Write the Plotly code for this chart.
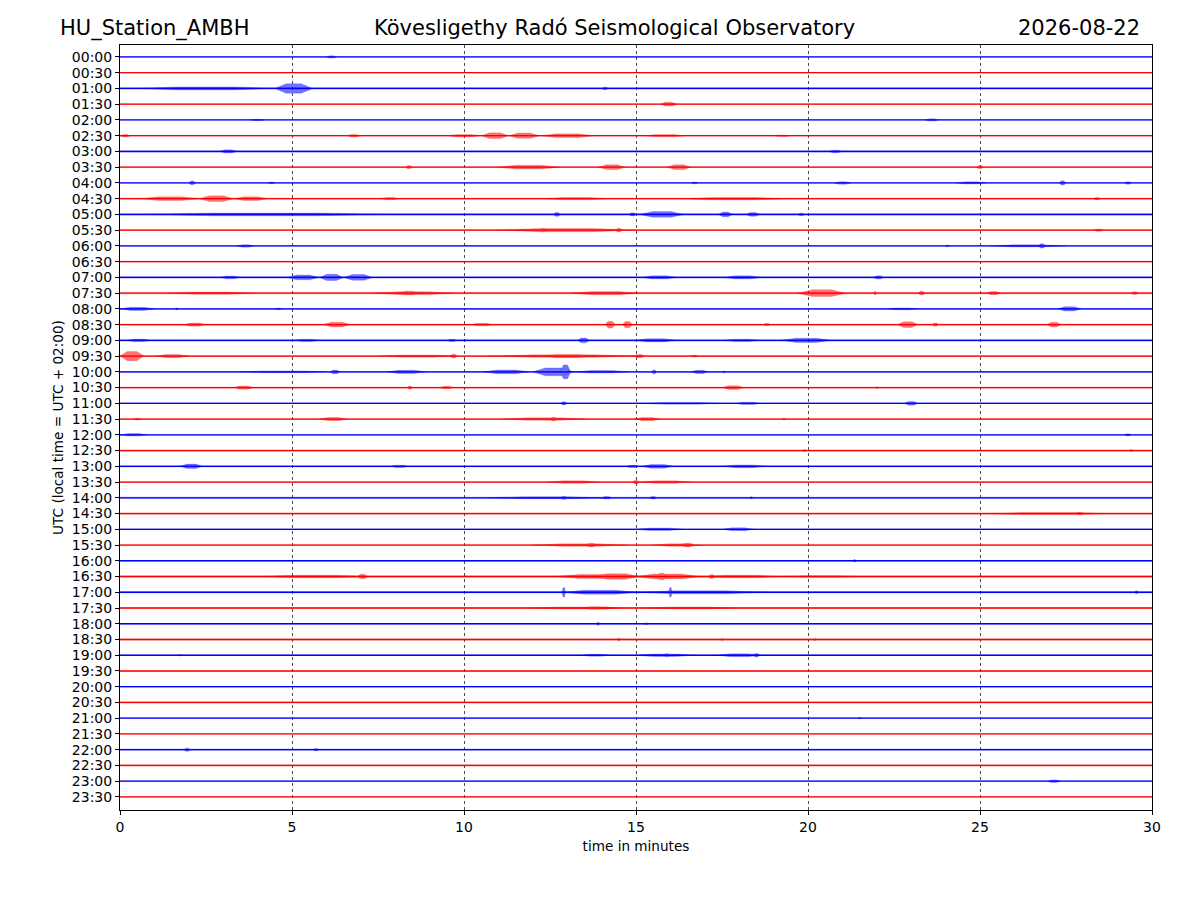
import plotly.graph_objects as go

# helicorder rows, 30 minutes each
row_labels = ["%02d:%02d" % (h, m) for h in range(24) for m in (0, 30)]
row_colors = ["#0000ff", "#ff0000"] * 24

# background noise half-amplitude per row (in row-spacing units)
noise = [0.03, 0.04, 0.07, 0.05, 0.03, 0.05, 0.08, 0.05, 0.03, 0.06, 0.08, 0.05,
         0.04, 0.05, 0.07, 0.07, 0.05, 0.06, 0.07, 0.05, 0.05, 0.05, 0.05, 0.05,
         0.04, 0.06, 0.06, 0.05, 0.06, 0.06, 0.05, 0.05, 0.04, 0.07, 0.06, 0.04,
         0.04, 0.06, 0.05, 0.03, 0.05, 0.06, 0.04, 0.03, 0.06, 0.06, 0.04, 0.04]

# bursts per row: (start minute, end minute, half amplitude)
bursts = [
    [(6.0, 6.3, 0.07)],
    [],
    [(0.5, 4.5, 0.1), (4.5, 5.6, 0.3), (14.0, 14.2, 0.08)],
    [(15.7, 16.2, 0.12)],
    [(3.8, 4.2, 0.05), (23.4, 23.8, 0.07)],
    [(0.0, 0.3, 0.08), (6.6, 7.0, 0.08), (9.5, 10.5, 0.08), (10.5, 11.3, 0.18),
     (11.3, 12.2, 0.17), (12.2, 13.8, 0.12), (15.2, 16.5, 0.07), (19.0, 19.5, 0.05)],
    [(2.9, 3.4, 0.1), (20.6, 21.0, 0.08)],
    [(8.3, 8.5, 0.1), (10.95, 12.8, 0.12), (13.9, 14.7, 0.15), (15.9, 16.6, 0.15),
     (24.9, 25.1, 0.1)],
    [(2.0, 2.2, 0.12), (4.3, 4.5, 0.06), (16.6, 16.8, 0.06), (20.75, 21.25, 0.08),
     (24.3, 25.2, 0.07), (27.3, 27.5, 0.13), (29.2, 29.4, 0.08)],
    [(0.6, 2.3, 0.12), (2.3, 3.3, 0.18), (3.3, 4.3, 0.12), (7.6, 8.1, 0.07),
     (12.3, 14.2, 0.07), (16.3, 19.4, 0.08), (28.3, 28.5, 0.08)],
    [(0.6, 7.8, 0.09), (12.6, 12.8, 0.12), (14.8, 15.0, 0.1), (15.1, 16.4, 0.18),
     (17.4, 17.8, 0.15), (18.2, 18.6, 0.12), (19.7, 19.9, 0.08)],
    [(10.95, 15.0, 0.1), (12.2, 12.4, 0.12), (14.4, 14.6, 0.12), (28.3, 28.6, 0.07)],
    [(3.4, 3.9, 0.08), (24.0, 24.1, 0.06), (25.3, 27.5, 0.07), (26.7, 26.9, 0.14)],
    [],
    [(2.9, 3.5, 0.09), (4.85, 5.8, 0.15), (5.8, 6.5, 0.2), (6.5, 7.35, 0.18),
     (15.15, 16.2, 0.1), (17.55, 18.65, 0.1), (21.9, 22.2, 0.1)],
    [(1.4, 3.9, 0.07), (7.35, 9.7, 0.09), (8.1, 8.7, 0.12), (13.1, 15.1, 0.1),
     (19.7, 21.1, 0.22), (21.9, 22.0, 0.1), (23.2, 23.4, 0.12), (25.2, 25.6, 0.1),
     (29.4, 29.6, 0.08)],
    [(0.0, 1.0, 0.1), (1.6, 1.7, 0.06), (4.5, 4.7, 0.05), (22.3, 23.2, 0.06),
     (27.25, 27.95, 0.14)],
    [(1.85, 2.5, 0.1), (5.9, 6.7, 0.15), (10.2, 10.85, 0.08), (14.1, 14.4, 0.22),
     (14.6, 14.9, 0.2), (18.7, 18.9, 0.08), (22.6, 23.2, 0.18), (23.6, 23.8, 0.1),
     (26.95, 27.35, 0.15)],
    [(0.2, 0.9, 0.08), (5.05, 5.8, 0.07), (9.5, 9.8, 0.07), (13.3, 13.65, 0.15),
     (14.95, 16.2, 0.1), (17.55, 18.6, 0.07), (19.2, 20.7, 0.13)],
    [(0.0, 0.7, 0.3), (1.05, 2.0, 0.1), (7.5, 9.8, 0.07), (9.6, 9.8, 0.12),
     (10.7, 15.1, 0.08), (12.2, 13.8, 0.1), (14.95, 15.25, 0.1), (16.6, 16.8, 0.06)],
    [(3.5, 6.0, 0.06), (6.1, 6.4, 0.12), (7.75, 8.9, 0.1), (10.55, 11.9, 0.12),
     (12.0, 13.2, 0.25), (12.8, 13.1, 0.44), (13.2, 14.8, 0.08), (15.45, 15.6, 0.12),
     (16.6, 17.1, 0.1), (17.5, 17.6, 0.06)],
    [(3.3, 3.9, 0.1), (8.35, 8.5, 0.1), (9.3, 9.7, 0.08), (17.5, 18.15, 0.12),
     (21.95, 22.05, 0.05)],
    [(12.8, 13.0, 0.1), (15.1, 17.55, 0.06), (17.85, 18.65, 0.07), (22.8, 23.2, 0.12)],
    [(0.4, 0.6, 0.06), (5.8, 6.6, 0.1), (11.1, 13.55, 0.08), (12.5, 12.7, 0.12),
     (14.95, 15.7, 0.1), (19.25, 19.35, 0.06)],
    [(0.0, 0.8, 0.08), (29.2, 29.4, 0.07)],
    [(19.85, 19.95, 0.06), (29.35, 29.45, 0.06)],
    [(1.75, 2.4, 0.14), (7.85, 8.4, 0.07), (14.7, 15.1, 0.07), (15.15, 16.1, 0.12),
     (17.5, 18.8, 0.09)],
    [(12.4, 13.95, 0.08), (14.9, 15.1, 0.12), (15.1, 16.6, 0.08)],
    [(10.7, 14.05, 0.06), (12.8, 13.0, 0.1), (14.0, 14.3, 0.08), (15.4, 15.6, 0.08),
     (18.3, 18.4, 0.06)],
    [(25.0, 29.0, 0.06), (27.8, 28.0, 0.08)],
    [(14.95, 16.4, 0.08), (17.5, 18.45, 0.09)],
    [(12.0, 14.75, 0.08), (13.55, 13.85, 0.12), (15.5, 16.9, 0.08), (16.3, 16.7, 0.12)],
    [(21.3, 21.4, 0.08)],
    [(4.05, 7.25, 0.08), (6.9, 7.2, 0.14), (12.6, 15.1, 0.13), (13.75, 15.1, 0.18),
     (14.95, 16.9, 0.16), (15.6, 15.9, 0.2), (17.1, 17.3, 0.12), (16.9, 19.2, 0.08),
     (19.2, 21.6, 0.05)],
    [(12.8, 15.1, 0.12), (12.85, 12.95, 0.3), (14.95, 18.8, 0.1), (15.95, 16.05, 0.3),
     (29.5, 29.6, 0.1)],
    [(12.0, 14.5, 0.06), (13.3, 14.5, 0.08), (15.3, 17.85, 0.06)],
    [(13.85, 13.95, 0.1), (15.25, 15.35, 0.06)],
    [(14.45, 14.55, 0.08), (17.45, 17.55, 0.07), (20.15, 20.25, 0.07)],
    [(1.7, 1.8, 0.05), (13.4, 14.25, 0.06), (14.95, 16.7, 0.08), (15.8, 16.0, 0.1),
     (17.35, 18.65, 0.09), (18.4, 18.6, 0.11)],
    [],
    [],
    [],
    [(21.45, 21.55, 0.05)],
    [],
    [(1.85, 2.05, 0.1), (5.6, 5.8, 0.07)],
    [],
    [(26.95, 27.35, 0.08)],
    [],
]

fig = go.Figure()

for i, label in enumerate(row_labels):
    y0 = -i
    col = row_colors[i]
    rgb = "0,0,255" if col == "#0000ff" else "255,0,0"
    # noise band for the whole 30 minutes
    n = noise[i]
    fig.add_trace(go.Scatter(
        x=[0, 30, 30, 0, 0], y=[y0 - n, y0 - n, y0 + n, y0 + n, y0 - n],
        mode="lines", fill="toself", fillcolor="rgba(%s,0.35)" % rgb,
        line=dict(width=0), hoverinfo="skip", showlegend=False))
    fig.add_trace(go.Scatter(
        x=[0, 30], y=[y0, y0], mode="lines",
        line=dict(color=col, width=1.3), hoverinfo="skip", showlegend=False))
    # bursts as spindle polygons
    xs, ys = [], []
    for t0, t1, a in bursts[i]:
        d = (t1 - t0) * 0.3
        xs += [t0, t0 + d, t1 - d, t1, t1 - d, t0 + d, t0, None]
        ys += [y0, y0 + a, y0 + a, y0, y0 - a, y0 - a, y0, None]
    if xs:
        fig.add_trace(go.Scatter(
            x=xs, y=ys, mode="lines", fill="toself",
            fillcolor="rgba(%s,0.55)" % rgb,
            line=dict(color="rgba(%s,0.35)" % rgb, width=0.5),
            hoverinfo="skip", showlegend=False))

font = "DejaVu Sans, Arial, sans-serif"
# page body adds an 8px offset, so margins are trimmed by that much
fig.update_layout(
    width=1200, height=900,
    margin=dict(l=112, r=56, t=37, b=98),
    paper_bgcolor="white", plot_bgcolor="white",
    font=dict(family=font, size=14, color="black"),
    xaxis=dict(range=[0, 30], tickvals=[0, 5, 10, 15, 20, 25, 30],
               showgrid=True, gridcolor="rgba(0,0,0,0.7)", gridwidth=0.6,
               griddash="dot",
               zeroline=False, showline=True, linecolor="black", linewidth=1,
               mirror=True, ticks="outside", ticklen=4, tickcolor="black",
               title=dict(text="time in minutes", standoff=7,
                          font=dict(size=13.6))),
    yaxis=dict(range=[-47.83, 0.76], tickvals=[-i for i in range(48)],
               ticktext=row_labels, showgrid=False, zeroline=False,
               showline=True, linecolor="black", linewidth=1, mirror=True,
               ticks="outside", ticklen=4, tickcolor="black",
               title=dict(text="UTC (local time = UTC + 02:00)", standoff=5,
                          font=dict(size=13.6))),
)

fig.add_annotation(text="HU_Station_AMBH", xref="paper", yref="paper",
                   x=-0.060, y=1.022, xanchor="left", yanchor="middle",
                   showarrow=False, font=dict(size=21))
fig.add_annotation(text="Kövesligethy Radó Seismological Observatory", xref="paper",
                   yref="paper", x=0.479, y=1.022, xanchor="center",
                   yanchor="middle", showarrow=False, font=dict(size=21))
fig.add_annotation(text="2026-08-22", xref="paper", yref="paper",
                   x=0.990, y=1.022, xanchor="right", yanchor="middle",
                   showarrow=False, font=dict(size=21))

fig.write_html("out.html")
